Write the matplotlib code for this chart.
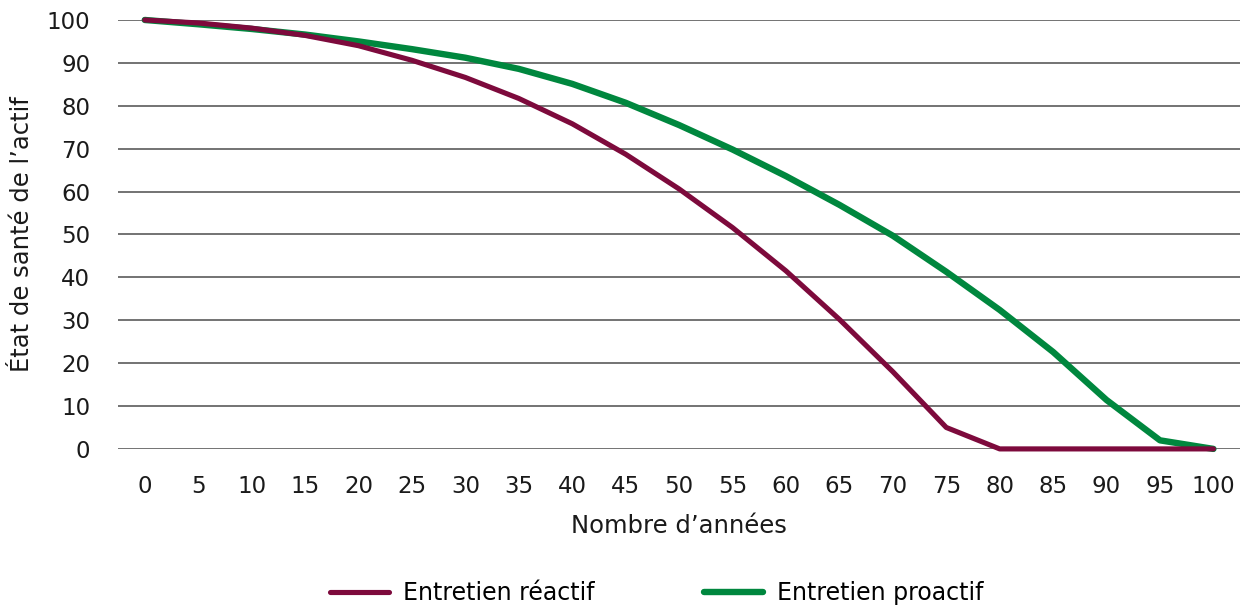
import matplotlib
matplotlib.use('Agg')
import matplotlib.pyplot as plt

plt.rcParams['font.family'] = ['DejaVu Sans']

# donnees
annees = list(range(0, 101, 5))
reactif = [100, 99.3, 98.1, 96.4, 94.0, 90.6, 86.6, 81.7, 75.8, 68.7, 60.6,
           51.6, 41.5, 30.2, 18.0, 5, 0, 0, 0, 0, 0]
proactif = [100, 99.0, 97.9, 96.6, 95.0, 93.2, 91.2, 88.6, 85.1, 80.7, 75.5,
            69.8, 63.6, 56.9, 49.7, 41.3, 32.4, 22.6, 11.4, 2, 0]
yticks = list(range(0, 101, 10))

col_reactif = '#7d0a3c'
col_proactif = '#00873e'
txt = '#1a1a1a'
fs = 16.5

fig = plt.figure(figsize=(12.44, 6.05), dpi=100)
ax = fig.add_axes([0.0949, 0.258, 0.902, 0.709])

ax.plot(annees, proactif, color=col_proactif, lw=4.6, label='Entretien proactif',
        solid_capstyle='round', clip_on=False, zorder=3)
ax.plot(annees, reactif, color=col_reactif, lw=3.7, label='Entretien réactif',
        solid_capstyle='round', clip_on=False, zorder=4)

ax.set_xlim(-2.5, 102.5)
ax.set_ylim(0, 100)
ax.set_xticks(annees)
ax.set_yticks(yticks)
ax.tick_params(axis='both', length=0, labelsize=fs, colors=txt)
ax.tick_params(axis='x', pad=19)
ax.tick_params(axis='y', pad=20)
ax.grid(axis='y', color='#4d4d4d', lw=1.1)
ax.set_axisbelow(True)
for sp in ax.spines.values():
    sp.set_visible(False)

ax.set_xlabel('Nombre d\u2019années', fontsize=17.5, color=txt, labelpad=11)
ax.set_ylabel('État de santé de l\u2019actif', fontsize=17.5, color=txt, labelpad=9)

h, l = ax.get_legend_handles_labels()
fig.legend(h[::-1], l[::-1], loc='center', bbox_to_anchor=(0.528, 0.02), ncol=2,
           frameon=False, fontsize=17, handlelength=2.5, handletextpad=0.6,
           columnspacing=4.6)

fig.savefig('out.png', dpi=100)
